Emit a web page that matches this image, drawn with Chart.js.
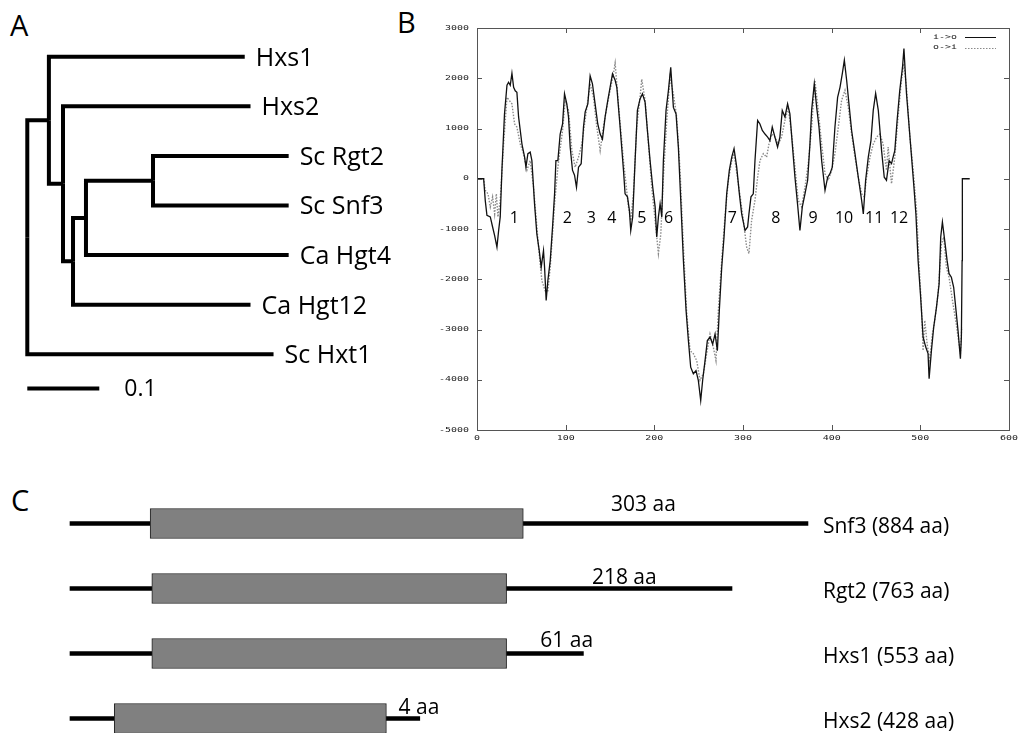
<!DOCTYPE html>
<html>
<head>
<meta charset="utf-8">
<script src="https://cdn.jsdelivr.net/npm/chart.js@4.4.1/dist/chart.umd.min.js"></script>
<style>
html,body{margin:0;padding:0;background:#fff;width:1020px;height:733px;overflow:hidden;position:relative;}
canvas{position:absolute;}
.tag{position:absolute;font-family:"Open Sans";font-size:29px;line-height:1;color:#000;}
</style>
</head>
<body>
<div class="tag" style="left:10px;top:10px">A</div>
<div class="tag" style="left:397px;top:7px">B</div>
<div class="tag" style="left:11px;top:485px">C</div>
<canvas id="tree" width="420" height="450" style="left:0;top:0"></canvas>
<canvas id="hydro" width="600" height="450" style="left:420px;top:0"></canvas>
<canvas id="domains" width="1020" height="260" style="left:0;top:491px"></canvas>
<script>
// ---- A: tree (branch lengths)
const leafNames = ['Hxs1','Hxs2','Sc Rgt2','Sc Snf3','Ca Hgt4','Ca Hgt12','Sc Hxt1'];
const leafDepth = [0.302,0.310,0.363,0.363,0.363,0.310,0.342];
const leafParent = [1,2,5,5,4,3,0];
// internal nodes: root, n1..n5
const nodeDepth = [0,0.030,0.0496,0.0635,0.0815,0.1746];
const nodeParent = [-1,0,1,2,3,4];
const scaleBarLen = 0.1;

// ---- B: hydropathy (TMpred style), two orientations
const ioPos = [0,7.5,9.3,11.2,15,17.6,19.9,22.5,24.4,26.2,28.1,31,33.8,35.6,37.5,39.4,41.3,43.1,45,46.9,50.7,53.7,55.2,57.4,60,61.9,64.9,67.5,70.2,72.4,75,76.2,78,79.9,82.6,85.2,87.5,89,91.2,93.8,96.5,98.7,101.3,103.2,105.1,107.7,110,112.2,114.5,117.5,120.1,122,125,127.6,130.2,133.2,136.2,138.9,141.5,144.5,147.5,150.1,152.8,155.8,157.7,161.4,165.2,167,169.7,171.9,173.4,175.6,178.3,180.9,183.9,186.6,189.6,192.2,195.2,198.2,200.9,202.7,204.6,206.5,208.4,210.2,213.2,215.9,218.5,221.5,224.5,227.1,229.8,232.8,235.8,238.4,241,244,247,249.6,252.3,254.5,257.2,259.8,262.8,265.8,268.5,271.1,273.3,276,278.6,281.6,284.6,287.3,289.9,292.9,295.9,298.5,302.3,305.2,306.7,309,311.6,313.5,316.5,319.1,321.8,324.8,327.8,330.4,333,336,339,341.6,344.3,347.3,350.3,352.9,355.6,358.6,361.5,364.2,366.9,369.9,372.9,375.5,377.4,380.4,383.1,385.7,388.7,392.5,395.5,398.1,400.7,403.7,406.7,409.4,412,414.3,416.9,419.5,422.5,426.3,430,433.8,435.7,438.3,441.3,444.3,446.9,449.6,452.6,456.3,459.3,461.8,464.8,467.5,469.3,471.2,473.8,476.8,479.9,481.5,484.4,487.4,490.1,492.8,495,497.5,500.1,503.1,506.1,508.7,509.9,512.5,515.1,518.2,521.2,523,524.9,527.5,530.2,532.4,535,537.6,539.9,542.5,545.2,546.3,547.1,547.4,555.7];
const ioVal = [0,0,-430,-730,-760,-960,-1130,-1360,-1030,-760,170,1290,1860,1920,1860,2100,1820,1750,1720,1230,690,430,230,500,530,360,-500,-1100,-1430,-1760,-1430,-1760,-2420,-2030,-1630,-960,-300,360,360,890,1090,1690,1490,1230,630,170,70,-170,230,300,1030,1330,1490,2050,1890,1490,1090,890,790,1230,1560,1820,2090,1960,1820,1030,170,-300,-360,-630,-1030,-760,360,1360,1590,1690,1520,960,360,-170,-560,-1160,-760,-500,-760,360,1360,1760,2220,1420,1290,630,-430,-1630,-2620,-3220,-3750,-3880,-3820,-4010,-4410,-4010,-3620,-3220,-3150,-3290,-3090,-3420,-2620,-1760,-1160,-300,170,430,600,230,-300,-700,-1030,-960,-700,-360,-300,360,1160,1090,960,890,830,760,1030,830,630,830,1360,1230,1490,1290,690,30,-500,-1030,-560,-300,-30,690,1360,1890,1420,1030,360,-230,30,100,230,1030,1620,1820,2090,2360,1960,1490,960,500,30,-430,-700,-30,430,760,1360,1700,1360,560,30,-30,360,300,430,560,1160,1760,2220,2590,1690,1030,430,-170,-700,-1630,-2290,-3150,-3350,-3480,-3980,-3420,-2950,-2560,-2090,-1160,-860,-1230,-1630,-1890,-1960,-2160,-2560,-3020,-3580,-3150,-1630,0,0];
const oiPos = [0,7.5,9.3,12.4,15,17.6,19.9,21.8,23.6,26.2,30,33.8,36.4,39.4,42.4,45,48.8,52.5,56.3,60,63.8,69.4,73.2,76.9,79.9,82.6,87.5,91.2,96.5,99.5,103.2,107,110.7,114.5,118.2,123.9,127.6,131.4,135.1,138.9,142.6,146.4,150.1,153.9,155.8,159.5,165.2,170.8,173.4,176.4,180.1,183.9,185.8,189.6,193.4,197.1,200.9,204.6,207.3,210.2,214,217.7,221.5,225.2,229,232.8,236.5,240.3,244,247.8,251.5,255.3,259,262.8,266.5,269.5,272.2,276,279.7,283.5,287.3,289.9,293.7,297.4,300.4,304.1,306.7,309.7,313.5,316.5,319.1,322.9,326.6,329.3,332.3,336,339.8,343.5,347.3,351,354.8,358.6,362.3,366.1,369.9,373.6,377.4,381.1,384.9,388.7,392.5,396.2,400,403.7,407.5,411.2,415,418.8,422.5,426.3,430,433.8,436.8,439.4,443.2,446.9,450.7,454.4,458,461.8,463.7,467.5,471.2,474.9,478.7,481.4,484.4,488.2,491.9,495.7,498.7,501.3,503.1,505,507.7,510.6,513.6,516.3,520,523.8,526.4,529.4,532.4,536.2,539.9,543.7,545.2,546.7];
const oiVal = [0,0,-230,-300,-560,-360,-700,-300,-760,-430,690,1620,1560,1490,1090,1030,690,500,170,360,-170,-1360,-2030,-2230,-2230,-1760,-500,230,960,1560,1360,560,230,430,690,1420,1890,1620,1030,560,1030,1420,1760,2090,2300,1490,360,-560,-830,-300,1030,1620,1980,1560,690,-170,-830,-1490,-1100,30,1160,2020,1690,1230,170,-1360,-2680,-3420,-3480,-3620,-4010,-3880,-3480,-3090,-3350,-3620,-2620,-1630,-760,-30,360,500,30,-430,-830,-1360,-1490,-830,-430,30,360,500,430,690,890,830,690,830,1160,1420,890,230,-430,-560,-170,300,1030,1960,1360,690,100,-30,170,500,1030,1560,1760,1420,890,430,30,-300,-360,30,430,690,830,890,690,170,630,-100,430,1230,1960,2290,1820,830,170,-630,-1760,-2560,-3420,-2820,-3290,-3620,-3090,-2820,-2290,-1300,-1160,-1760,-1960,-2420,-2820,-3290,-3480,-2950];
const tmLabels = ['1','2','3','4','5','6','7','8','9','10','11','12'];
const tmPos = [42,102,129,152,186,216,288,337,379,414,448,476];

// ---- C: domain diagram (diagram units along the sequence)
const proteins = ['Snf3','Rgt2','Hxs1','Hxs2'];
const proteinLength = [884,763,553,428];
const tailLength = [303,218,61,4];
const lineEnd = [884,793,615,419];
const domainStart = [96,98,98,53];
const domainEnd = [543,523,523,379];
const tailLabelAt = [687,664,595,418];

// ================= A =================
const nodeY = [];
const leafY = leafNames.map((n,i)=>i);
function yOf(k){
  if(nodeY[k]!==undefined) return nodeY[k];
  let ys = [];
  leafParent.forEach((p,i)=>{ if(p===k) ys.push(leafY[i]); });
  nodeParent.forEach((p,j)=>{ if(p===k) ys.push(yOf(j)); });
  nodeY[k] = ys.reduce((a,b)=>a+b,0)/ys.length;
  return nodeY[k];
}
yOf(0);
const elbows = [];
nodeParent.forEach((p,j)=>{
  if(p<0) return;
  elbows.push([{x:nodeDepth[p],y:nodeY[p]},{x:nodeDepth[p],y:nodeY[j]},{x:nodeDepth[j],y:nodeY[j]}]);
});
leafParent.forEach((p,i)=>{
  elbows.push([{x:nodeDepth[p],y:nodeY[p]},{x:nodeDepth[p],y:leafY[i]},{x:leafDepth[i],y:leafY[i]}]);
});
const barRow = 6.69;
elbows.push([{x:0,y:barRow},{x:scaleBarLen,y:barRow}]);

const treeLabels = {
  id:'treeLabels',
  afterDatasetsDraw(chart){
    const ctx = chart.ctx, xs = chart.scales.x, ys = chart.scales.y;
    ctx.save();
    ctx.fillStyle = '#000';
    ctx.font = '25px "Open Sans"';
    ctx.textBaseline = 'alphabetic';
    leafNames.forEach((n,i)=>{
      ctx.fillText(n, xs.getPixelForValue(leafDepth[i])+11, ys.getPixelForValue(leafY[i])+9);
    });
    ctx.font = '23px "Open Sans"';
    ctx.fillText(String(scaleBarLen), xs.getPixelForValue(scaleBarLen)+25, ys.getPixelForValue(barRow)+8);
    ctx.restore();
  }
};

new Chart(document.getElementById('tree'), {
  type:'scatter',
  data:{datasets: elbows.map(pts=>({data:pts, showLine:true, borderColor:'#000', borderWidth:4,
    pointRadius:0, borderCapStyle:'butt', borderJoinStyle:'miter', fill:false}))},
  options:{
    responsive:false, animation:false,
    layout:{padding:0},
    plugins:{legend:{display:false}, tooltip:{enabled:false}},
    scales:{
      x:{type:'linear', display:false, min:-0.0379, max:0.5454},
      y:{type:'linear', display:false, reverse:true, min:-1.143, max:7.93}
    }
  },
  plugins:[treeLabels]
});

// ================= B =================
function monoText(ctx, txt, x, y, align){
  ctx.save();
  ctx.translate(x, y);
  ctx.scale(1, 0.62);
  ctx.font = '10px "DejaVu Sans Mono"';
  ctx.textAlign = align;
  ctx.textBaseline = 'middle';
  ctx.fillText(txt, 0, 0);
  ctx.restore();
}

const gnuFrame = {
  id:'gnuFrame',
  afterDatasetsDraw(chart){
    const ctx = chart.ctx, a = chart.chartArea, xs = chart.scales.x, ys = chart.scales.y;
    ctx.save();
    ctx.strokeStyle = '#555';
    ctx.lineWidth = 1;
    ctx.strokeRect(Math.round(a.left)+0.5, Math.round(a.top)+0.5, Math.round(a.right-a.left), Math.round(a.bottom-a.top));
    ctx.beginPath();
    ys.ticks.forEach(t=>{
      const y = Math.round(ys.getPixelForValue(t.value))+0.5;
      ctx.moveTo(a.left, y); ctx.lineTo(a.left+5, y);
      ctx.moveTo(a.right, y); ctx.lineTo(a.right-5, y);
    });
    xs.ticks.forEach(t=>{
      const x = Math.round(xs.getPixelForValue(t.value))+0.5;
      ctx.moveTo(x, a.bottom); ctx.lineTo(x, a.bottom-5);
      ctx.moveTo(x, a.top); ctx.lineTo(x, a.top+5);
    });
    ctx.stroke();
    ctx.fillStyle = '#222';
    ys.ticks.forEach(t=>monoText(ctx, String(t.value), a.left-8, ys.getPixelForValue(t.value), 'right'));
    xs.ticks.forEach(t=>monoText(ctx, String(t.value), xs.getPixelForValue(t.value), a.bottom+8, 'center'));
    // legend
    chart.data.datasets.forEach((d,i)=>{
      const y = a.top + 9 + i*10.5;
      monoText(ctx, d.label, a.right-52, y, 'right');
      ctx.beginPath();
      ctx.strokeStyle = d.borderColor;
      ctx.lineWidth = 1;
      ctx.setLineDash(d.borderDash || []);
      ctx.moveTo(a.right-44, Math.round(y)+0.5); ctx.lineTo(a.right-13, Math.round(y)+0.5);
      ctx.stroke();
    });
    ctx.setLineDash([]);
    // helix numbers
    ctx.fillStyle = '#000';
    ctx.font = '16px "Open Sans"';
    ctx.textAlign = 'center';
    ctx.textBaseline = 'alphabetic';
    tmLabels.forEach((s,i)=>ctx.fillText(s, xs.getPixelForValue(tmPos[i]), ys.getPixelForValue(-760)+6));
    ctx.restore();
  }
};

new Chart(document.getElementById('hydro'), {
  type:'line',
  data:{datasets:[
    {label:'i->o', data: ioPos.map((x,i)=>({x, y:ioVal[i]})), borderColor:'#111', borderWidth:1.3, pointRadius:0, tension:0, order:0},
    {label:'o->i', data: oiPos.map((x,i)=>({x, y:oiVal[i]})), borderColor:'#8a8a8a', borderWidth:1.4, borderDash:[1.5,1.5], pointRadius:0, tension:0, order:1}
  ]},
  options:{
    responsive:false, animation:false,
    layout:{padding:{left:0, top:28, right:11, bottom:0}},
    plugins:{legend:{display:false}, tooltip:{enabled:false}},
    scales:{
      x:{type:'linear', min:0, max:600, ticks:{display:false, stepSize:100}, grid:{display:false}, border:{display:false},
         afterFit(s){ s.height = 20; }},
      y:{type:'linear', min:-5000, max:3000, ticks:{display:false, stepSize:1000}, grid:{display:false}, border:{display:false},
         afterFit(s){ s.width = 57; }}
    }
  },
  plugins:[gnuFrame]
});

// ================= C =================
const tailLift = [20,12,14,12];
const domainLabels = {
  id:'domainLabels',
  afterDatasetsDraw(chart){
    const ctx = chart.ctx, xs = chart.scales.x, ys = chart.scales.y;
    const rightX = xs.getPixelForValue(Math.max(...lineEnd)) + 15;
    ctx.save();
    ctx.fillStyle = '#000';
    ctx.font = '21px "Open Sans"';
    ctx.textBaseline = 'alphabetic';
    proteins.forEach((p,i)=>{
      const y = ys.getPixelForValue(i);
      ctx.textAlign = 'left';
      ctx.fillText(p + ' (' + proteinLength[i] + ' aa)', rightX, y + 9);
      ctx.textAlign = 'center';
      ctx.fillText(tailLength[i] + ' aa', xs.getPixelForValue(tailLabelAt[i]), y - tailLift[i] + 7.5);
    });
    ctx.restore();
  }
};

new Chart(document.getElementById('domains'), {
  type:'bar',
  data:{
    labels: proteins,
    datasets:[
      {label:'domain', data: domainStart.map((s,i)=>[s, domainEnd[i]]), backgroundColor:'#808080',
       borderColor:'#222', borderWidth:1, borderSkipped:false, barThickness:30, grouped:false, order:0},
      {label:'protein', data: lineEnd.map(e=>[0, e]), backgroundColor:'#000', borderWidth:0,
       barThickness:4, grouped:false, order:1}
    ]
  },
  options:{
    indexAxis:'y', responsive:false, animation:false,
    layout:{padding:0},
    plugins:{legend:{display:false}, tooltip:{enabled:false}},
    scales:{
      x:{type:'linear', display:false, min:-83.85, max:1138},
      y:{display:false}
    }
  },
  plugins:[domainLabels]
});
</script>
</body>
</html>
